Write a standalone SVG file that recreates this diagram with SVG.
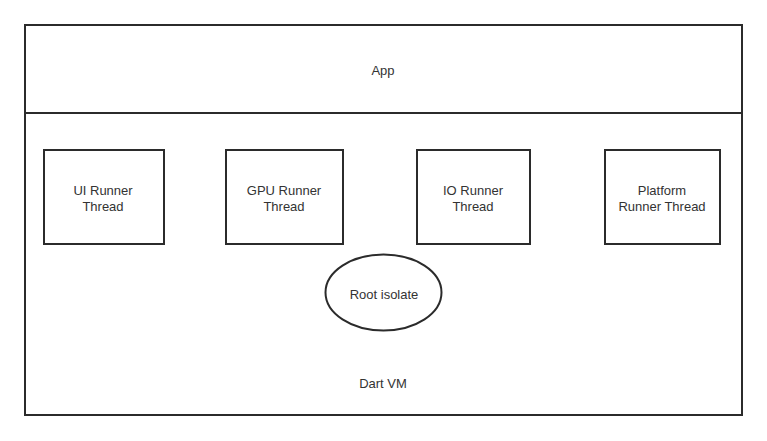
<svg xmlns="http://www.w3.org/2000/svg" width="767" height="441" viewBox="0 0 767 441">
<style>
.b{fill:#fff;stroke:#2b2b2b;stroke-width:2}
.t{font-family:"Liberation Sans",Arial,sans-serif;font-size:13px;fill:#333;text-anchor:middle}
</style>
<rect width="767" height="441" fill="#fff"/>
<g id="dartvm"><rect class="b" x="25" y="113" width="717" height="302"/><text class="t" x="383" y="388">Dart VM</text></g>
<g id="app"><rect class="b" x="25" y="25" width="717" height="88"/><text class="t" x="383" y="75">App</text></g>
<g id="ui"><rect class="b" x="44" y="150" width="120" height="94"/><text class="t" x="103" y="195">UI Runner</text><text class="t" x="103" y="211">Thread</text></g>
<g id="gpu"><rect class="b" x="226" y="150" width="117" height="94"/><text class="t" x="284" y="195">GPU Runner</text><text class="t" x="284" y="211">Thread</text></g>
<g id="io"><rect class="b" x="417" y="150" width="113" height="94"/><text class="t" x="473" y="195">IO Runner</text><text class="t" x="473" y="211">Thread</text></g>
<g id="platform"><rect class="b" x="605" y="150" width="115" height="94"/><text class="t" x="662" y="195">Platform</text><text class="t" x="662" y="211">Runner Thread</text></g>
<g id="root"><ellipse class="b" cx="383.5" cy="292.5" rx="58" ry="38"/><text class="t" x="384" y="299">Root isolate</text></g>
<g id="connectors"></g>
</svg>
